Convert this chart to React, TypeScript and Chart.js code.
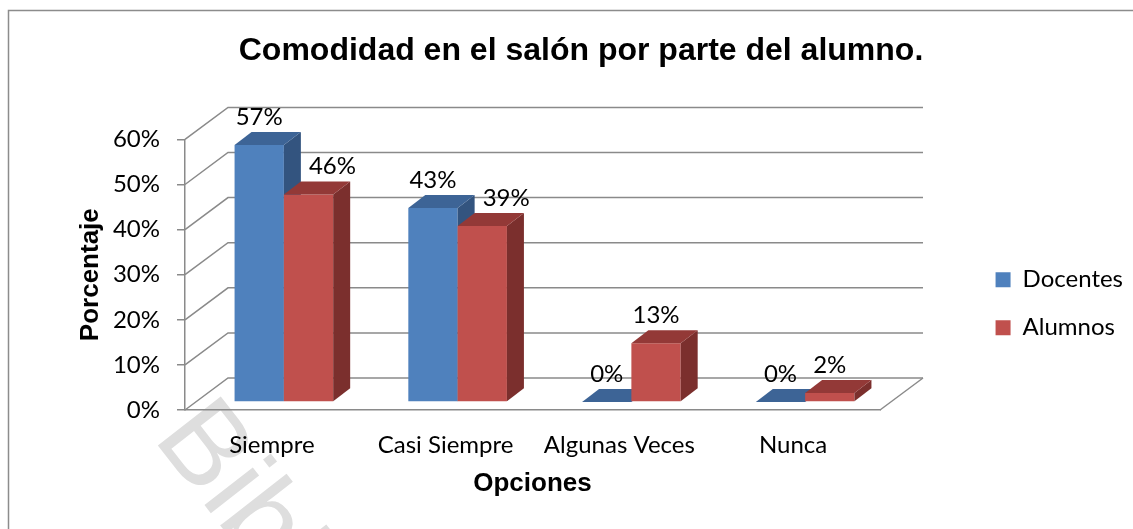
import React, { useEffect, useRef } from "react";
import { Chart, registerables } from "chart.js";

Chart.register(...registerables);

// ---- data ----
const categories = ["Siempre", "Casi Siempre", "Algunas Veces", "Nunca"];
const seriesNames = ["Docentes", "Alumnos"];
const docentes = [57, 43, 0, 0];
const alumnos = [46, 39, 13, 2];
const yMin = 0;
const yMax = 60;
const yStep = 10;
const chartTitle = "Comodidad en el salón por parte del alumno.";
const xTitle = "Opciones";
const yTitle = "Porcentaje";
const watermark = "Biblioteca";

// ---- style / layout constants ----
const W = 1133;
const H = 529;
const PAD_L = 29;
const PLOT_LEFT = 185;
const PLOT_RIGHT = 880;
const X_AXIS_H = 119;
const WALL = { x: 43, y: -32 };
const BAR_SHIFT = { x: 12, y: -8 };
const BAR_DEPTH = { x: 17, y: -13 };
const GRID = "#8a8a8a";
const FRONT = ["#4F81BD", "#C0504D"];
const TOP = ["#3D6496", "#933937"];
const SIDE = ["#33547F", "#7B2F2D"];
const LABEL_FONT = "Lato";
const BOLD_FONT = "Liberation Sans";

const threeD = {
  id: "threeD",
  beforeDraw(chart: any) {
    const { ctx, chartArea } = chart;
    const { left, right, bottom } = chartArea;
    ctx.save();
    ctx.fillStyle = "#ffffff";
    ctx.fillRect(0, 0, chart.width, chart.height);

    // watermark
    ctx.save();
    ctx.translate(152, 438);
    ctx.rotate((52 * Math.PI) / 180);
    ctx.font = `116px "${BOLD_FONT}"`;
    ctx.fillStyle = "#dedede";
    ctx.textBaseline = "alphabetic";
    ctx.fillText(watermark, 0, 0);
    ctx.restore();

    // outer border
    ctx.strokeStyle = "#8c8c8c";
    ctx.lineWidth = 1.5;
    ctx.strokeRect(8.5, 10.5, 1300, 700);

    // walls & floor
    const yScale = chart.scales.y;
    ctx.strokeStyle = GRID;
    ctx.lineWidth = 1.5;
    for (const t of yScale.ticks) {
      const py = yScale.getPixelForValue(t.value);
      ctx.beginPath();
      ctx.moveTo(left, py);
      ctx.lineTo(left + WALL.x, py + WALL.y);
      ctx.lineTo(right + WALL.x, py + WALL.y);
      ctx.stroke();
    }
    ctx.beginPath();
    ctx.moveTo(right, bottom);
    ctx.lineTo(right + WALL.x, bottom + WALL.y);
    ctx.stroke();
    ctx.restore();
  },
  // draw bars ourselves (via the library's own elements) in dataset order
  beforeDatasetDraw() {
    return false;
  },
  afterDatasetsDraw(chart: any) {
    const { ctx } = chart;
    const metas = [chart.getDatasetMeta(0), chart.getDatasetMeta(1)];
    ctx.save();
    ctx.translate(BAR_SHIFT.x, BAR_SHIFT.y);
    metas.forEach((meta: any, di: number) => {
      for (const el of meta.data) {
        el.draw(ctx, chart.chartArea);
        const { x, y, base, width } = el.getProps(["x", "y", "base", "width"], true);
        const x0 = x - width / 2;
        const x1 = x + width / 2;
        ctx.fillStyle = SIDE[di];
        ctx.beginPath();
        ctx.moveTo(x1, y);
        ctx.lineTo(x1 + BAR_DEPTH.x, y + BAR_DEPTH.y);
        ctx.lineTo(x1 + BAR_DEPTH.x, base + BAR_DEPTH.y);
        ctx.lineTo(x1, base);
        ctx.closePath();
        ctx.fill();
        ctx.fillStyle = TOP[di];
        ctx.beginPath();
        ctx.moveTo(x0, y);
        ctx.lineTo(x0 + BAR_DEPTH.x, y + BAR_DEPTH.y);
        ctx.lineTo(x1 + BAR_DEPTH.x, y + BAR_DEPTH.y);
        ctx.lineTo(x1, y);
        ctx.closePath();
        ctx.fill();
      }
    });
    ctx.restore();

    // value labels
    ctx.save();
    ctx.font = `24px "${LABEL_FONT}"`;
    ctx.fillStyle = "#000";
    ctx.textAlign = "center";
    ctx.textBaseline = "middle";
    const [m0] = metas;
    metas.forEach((meta: any, di: number) => {
      meta.data.forEach((el: any, i: number) => {
        const { x, y } = el.getProps(["x", "y"], true);
        const v = chart.data.datasets[di].data[i];
        const text = `${v}%`;
        let cx = x + BAR_SHIFT.x;
        const cy = y + BAR_SHIFT.y - 28;
        const tw = ctx.measureText(text).width;
        if (di === 1) {
          const other = m0.data[i].getProps(["x", "y", "width"], true);
          const sideRight = other.x + other.width / 2 + BAR_DEPTH.x + BAR_SHIFT.x;
          const otherTop = other.y + BAR_SHIFT.y + BAR_DEPTH.y;
          if (cx - tw / 2 < sideRight && cy + 9 > otherTop) {
            cx = sideRight + 8 + tw / 2;
          }
        }
        ctx.fillText(text, cx, cy);
      });
    });
    ctx.restore();
  },
};

export default function App() {
  const ref = useRef<HTMLCanvasElement | null>(null);
  useEffect(() => {
    if (!ref.current) return;
    const chart = new Chart(ref.current, {
      type: "bar",
      data: {
        labels: categories,
        datasets: [
          {
            label: seriesNames[0],
            data: docentes,
            backgroundColor: FRONT[0],
            borderWidth: 0,
            yAxisID: "y",
          },
          {
            label: seriesNames[1],
            data: alumnos,
            backgroundColor: FRONT[1],
            borderWidth: 0,
            yAxisID: "y",
          },
        ],
      },
      options: {
        responsive: false,
        animation: false,
        devicePixelRatio: 1,
        layout: { padding: { left: PAD_L, right: 0, top: 0, bottom: 0 } },
        categoryPercentage: 0.5675,
        barPercentage: 1,
        plugins: {
          tooltip: { enabled: false },
          title: {
            display: true,
            text: chartTitle,
            color: "#000",
            font: { family: BOLD_FONT, size: 32, weight: "bold" },
            padding: { top: 32, bottom: 69 },
          },
          legend: {
            display: true,
            position: "right",
            align: "center",
            title: {
              display: true,
              text: " ",
              color: "rgba(0,0,0,0)",
              font: { size: 12 },
              padding: 32,
            },
            labels: {
              color: "#000",
              font: { family: LABEL_FONT, size: 24 },
              boxWidth: 15,
              boxHeight: 15,
              padding: 24,
            },
          },
        },
        scales: {
          x: {
            type: "category",
            offset: true,
            grid: { display: false },
            border: { display: true, color: GRID, width: 1.5 },
            ticks: { color: "#000", font: { family: LABEL_FONT, size: 24 }, padding: 13 },
            title: {
              display: true,
              text: xTitle,
              color: "#000",
              font: { family: BOLD_FONT, size: 26, weight: "bold" },
              padding: { top: 0, bottom: 30 },
            },
            afterFit: (s: any) => {
              s.height = X_AXIS_H;
            },
          },
          y: {
            type: "linear",
            position: "left",
            min: yMin,
            max: yMax,
            ticks: {
              stepSize: yStep,
              color: "#000",
              font: { family: LABEL_FONT, size: 24 },
              padding: 17,
              callback: (v: any) => `${v}%`,
            },
            grid: {
              drawOnChartArea: false,
              drawTicks: true,
              tickLength: 8,
              color: GRID,
              lineWidth: 1.5,
            },
            border: { display: true, color: GRID, width: 1.5 },
            title: {
              display: true,
              text: yTitle,
              color: "#000",
              font: { family: BOLD_FONT, size: 26, weight: "bold" },
              padding: { top: 46, bottom: 0 },
            },
            afterFit: (s: any) => {
              s.width = PLOT_LEFT - PAD_L;
            },
          },
          y2: {
            type: "linear",
            position: "right",
            display: true,
            grid: { display: false },
            border: { display: false },
            ticks: { display: false },
            afterFit: (s: any) => {
              const lg = s.chart.legend;
              const lw = lg ? lg.width : 150;
              s.width = Math.max(0, W - lw - PLOT_RIGHT);
            },
          },
        },
      } as any,
      plugins: [threeD],
    });
    return () => chart.destroy();
  }, []);
  return (
    <div style={{ position: "absolute", left: 0, top: 0, width: W, height: H }}>
      <canvas ref={ref} width={W} height={H} style={{ display: "block" }} />
    </div>
  );
}
